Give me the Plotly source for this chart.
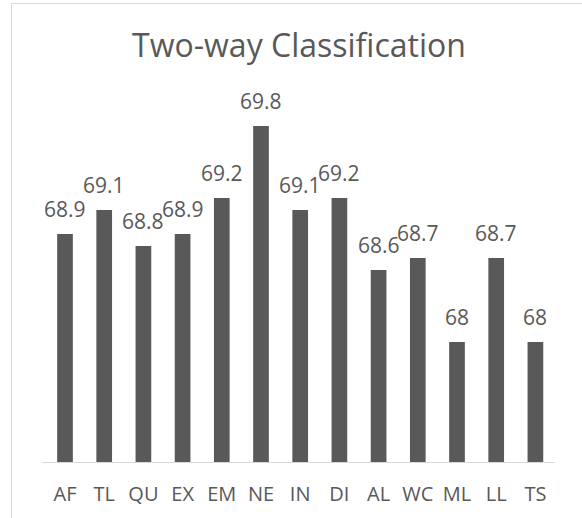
import plotly.graph_objects as go

categories = ["AF", "TL", "QU", "EX", "EM", "NE", "IN", "DI", "AL", "WC", "ML", "LL", "TS"]
values = [68.9, 69.1, 68.8, 68.9, 69.2, 69.8, 69.1, 69.2, 68.6, 68.7, 68.0, 68.7, 68.0]
labels = ["68.9", "69.1", "68.8", "68.9", "69.2", "69.8", "69.1", "69.2", "68.6", "68.7", "68", "68.7", "68"]

W, H = 582, 518
ML, MR, MT, MB = 42, 27, 102, 56
FONT = "Open Sans"
GRAY = "#595959"

fig = go.Figure(go.Bar(
    x=categories, y=values, marker=dict(color=GRAY, line=dict(width=0)),
    width=0.4, hoverinfo="skip"))

for c, v, t in zip(categories, values, labels):
    fig.add_annotation(x=c, y=v, text=t, showarrow=False, yanchor="bottom",
                       yshift=9, font=dict(family=FONT, size=21, color=GRAY))

pw = W - ML - MR
ph = H - MT - MB
def px_x(p):
    return (p - ML) / pw
def px_y(p):
    return (H - MB - p) / ph

frame = dict(color="#d9d9d9", width=1)
fig.add_shape(type="line", xref="paper", yref="paper",
              x0=px_x(11.5), x1=px_x(W), y0=px_y(3.5), y1=px_y(3.5), line=frame)
fig.add_shape(type="line", xref="paper", yref="paper",
              x0=px_x(11.5), x1=px_x(11.5), y0=px_y(3.5), y1=px_y(H), line=frame)

fig.update_layout(
    width=W, height=H,
    margin=dict(l=ML, r=MR, t=MT, b=MB, pad=0),
    paper_bgcolor="white", plot_bgcolor="white",
    showlegend=False,
    title=dict(text="Two-way Classification", xref="container", yref="container",
               x=299 / W, xanchor="center", y=1 - 46 / H, yanchor="middle",
               font=dict(family=FONT, size=32, color=GRAY)),
    xaxis=dict(showline=True, linecolor="#d9d9d9", linewidth=1, ticks="",
               showgrid=False, tickfont=dict(family=FONT, size=20, color=GRAY),
               ticklabelstandoff=14, fixedrange=True),
    yaxis=dict(range=[67, 70], visible=False, showgrid=False, zeroline=False, fixedrange=True),
)

fig.write_html("out.html", config={"displayModeBar": False},
               post_script="document.body.style.margin='0';document.body.style.overflow='hidden';")
